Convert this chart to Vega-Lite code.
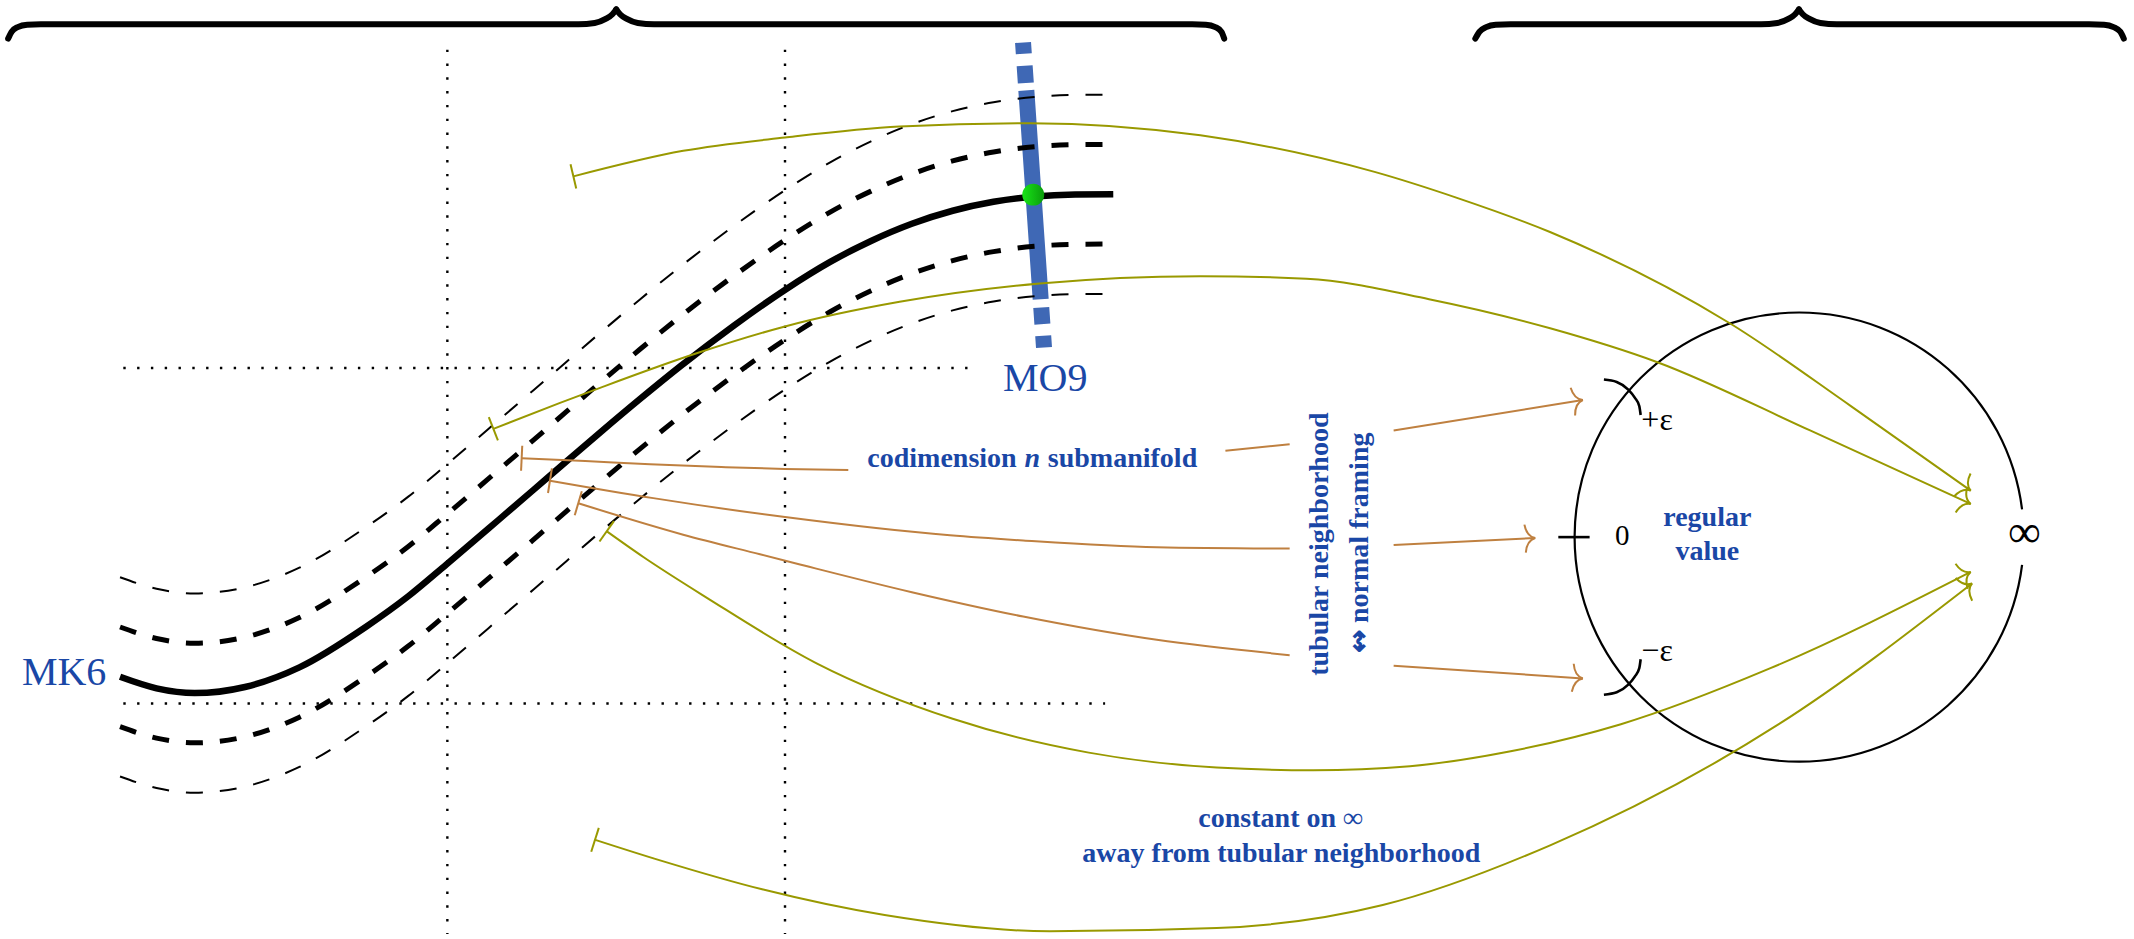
{
  "$schema": "https://vega.github.io/schema/vega-lite/v6.json",
  "width": 2134,
  "height": 939,
  "autosize": {"type": "fit", "contains": "padding"},
  "padding": 0,
  "background": "white",
  "config": {"view": {"stroke": null}},
  "datasets": {
    "dots": [
      {"id": "v1", "x": 328.7, "y": 36.7}, {"id": "v1", "x": 328.7, "y": 690},
      {"id": "v2", "x": 576.8, "y": 36.7}, {"id": "v2", "x": 576.8, "y": 690},
      {"id": "h1", "x": 90.6, "y": 271.9}, {"id": "h1", "x": 718.8, "y": 271.9},
      {"id": "h2", "x": 90.6, "y": 519.7}, {"id": "h2", "x": 812, "y": 519.7}
    ],
    "blue": [
      {"x": 751.7, "y": 31.4}, {"x": 767.1, "y": 256.7}
    ],
    "curves": [
      {"id": "s", "x": 88.2, "y": 500}, {"id": "s", "x": 115, "y": 508.5}, {"id": "s", "x": 143, "y": 512}, {"id": "s", "x": 180, "y": 507.5}, {"id": "s", "x": 220, "y": 493}, {"id": "s", "x": 269, "y": 463}, {"id": "s", "x": 300, "y": 440.5}, {"id": "s", "x": 328, "y": 417}, {"id": "s", "x": 367, "y": 383.5}, {"id": "s", "x": 404, "y": 351.5}, {"id": "s", "x": 441, "y": 319.5}, {"id": "s", "x": 470, "y": 295}, {"id": "s", "x": 500, "y": 270.5}, {"id": "s", "x": 540, "y": 240}, {"id": "s", "x": 577, "y": 214}, {"id": "s", "x": 610, "y": 193.5}, {"id": "s", "x": 640, "y": 178}, {"id": "s", "x": 670, "y": 165.3}, {"id": "s", "x": 700, "y": 155.7}, {"id": "s", "x": 730, "y": 149.1}, {"id": "s", "x": 760, "y": 145.2}, {"id": "s", "x": 790, "y": 143.7}, {"id": "s", "x": 818, "y": 143.5},
      {"id": "u1", "x": 88.2, "y": 463.2}, {"id": "u1", "x": 115, "y": 471.7}, {"id": "u1", "x": 143, "y": 475.2}, {"id": "u1", "x": 180, "y": 470.7}, {"id": "u1", "x": 220, "y": 456.2}, {"id": "u1", "x": 269, "y": 426.2}, {"id": "u1", "x": 300, "y": 403.7}, {"id": "u1", "x": 328, "y": 380.2}, {"id": "u1", "x": 367, "y": 346.7}, {"id": "u1", "x": 404, "y": 314.7}, {"id": "u1", "x": 441, "y": 282.7}, {"id": "u1", "x": 470, "y": 258.2}, {"id": "u1", "x": 500, "y": 233.7}, {"id": "u1", "x": 540, "y": 203.2}, {"id": "u1", "x": 577, "y": 177.2}, {"id": "u1", "x": 610, "y": 156.7}, {"id": "u1", "x": 640, "y": 141.2}, {"id": "u1", "x": 670, "y": 128.5}, {"id": "u1", "x": 700, "y": 118.9}, {"id": "u1", "x": 730, "y": 112.3}, {"id": "u1", "x": 760, "y": 108.4}, {"id": "u1", "x": 790, "y": 106.9}, {"id": "u1", "x": 818, "y": 106.7},
      {"id": "u2", "x": 88.2, "y": 426.4}, {"id": "u2", "x": 115, "y": 434.9}, {"id": "u2", "x": 143, "y": 438.4}, {"id": "u2", "x": 180, "y": 433.9}, {"id": "u2", "x": 220, "y": 419.4}, {"id": "u2", "x": 269, "y": 389.4}, {"id": "u2", "x": 300, "y": 366.9}, {"id": "u2", "x": 328, "y": 343.4}, {"id": "u2", "x": 367, "y": 309.9}, {"id": "u2", "x": 404, "y": 277.9}, {"id": "u2", "x": 441, "y": 245.9}, {"id": "u2", "x": 470, "y": 221.4}, {"id": "u2", "x": 500, "y": 196.9}, {"id": "u2", "x": 540, "y": 166.4}, {"id": "u2", "x": 577, "y": 140.4}, {"id": "u2", "x": 610, "y": 119.9}, {"id": "u2", "x": 640, "y": 104.4}, {"id": "u2", "x": 670, "y": 91.7}, {"id": "u2", "x": 700, "y": 82.1}, {"id": "u2", "x": 730, "y": 75.5}, {"id": "u2", "x": 760, "y": 71.6}, {"id": "u2", "x": 790, "y": 70.1}, {"id": "u2", "x": 818, "y": 69.9},
      {"id": "l1", "x": 88.2, "y": 536.8}, {"id": "l1", "x": 115, "y": 545.3}, {"id": "l1", "x": 143, "y": 548.8}, {"id": "l1", "x": 180, "y": 544.3}, {"id": "l1", "x": 220, "y": 529.8}, {"id": "l1", "x": 269, "y": 499.8}, {"id": "l1", "x": 300, "y": 477.3}, {"id": "l1", "x": 328, "y": 453.8}, {"id": "l1", "x": 367, "y": 420.3}, {"id": "l1", "x": 404, "y": 388.3}, {"id": "l1", "x": 441, "y": 356.3}, {"id": "l1", "x": 470, "y": 331.8}, {"id": "l1", "x": 500, "y": 307.3}, {"id": "l1", "x": 540, "y": 276.8}, {"id": "l1", "x": 577, "y": 250.8}, {"id": "l1", "x": 610, "y": 230.3}, {"id": "l1", "x": 640, "y": 214.8}, {"id": "l1", "x": 670, "y": 202.1}, {"id": "l1", "x": 700, "y": 192.5}, {"id": "l1", "x": 730, "y": 185.9}, {"id": "l1", "x": 760, "y": 182}, {"id": "l1", "x": 790, "y": 180.5}, {"id": "l1", "x": 818, "y": 180.3},
      {"id": "l2", "x": 88.2, "y": 573.6}, {"id": "l2", "x": 115, "y": 582.1}, {"id": "l2", "x": 143, "y": 585.6}, {"id": "l2", "x": 180, "y": 581.1}, {"id": "l2", "x": 220, "y": 566.6}, {"id": "l2", "x": 269, "y": 536.6}, {"id": "l2", "x": 300, "y": 514.1}, {"id": "l2", "x": 328, "y": 490.6}, {"id": "l2", "x": 367, "y": 457.1}, {"id": "l2", "x": 404, "y": 425.1}, {"id": "l2", "x": 441, "y": 393.1}, {"id": "l2", "x": 470, "y": 368.6}, {"id": "l2", "x": 500, "y": 344.1}, {"id": "l2", "x": 540, "y": 313.6}, {"id": "l2", "x": 577, "y": 287.6}, {"id": "l2", "x": 610, "y": 267.1}, {"id": "l2", "x": 640, "y": 251.6}, {"id": "l2", "x": 670, "y": 238.9}, {"id": "l2", "x": 700, "y": 229.3}, {"id": "l2", "x": 730, "y": 222.7}, {"id": "l2", "x": 760, "y": 218.8}, {"id": "l2", "x": 790, "y": 217.3}, {"id": "l2", "x": 818, "y": 217.1}
    ],
    "dot": [{"x": 759.2, "y": 143.8}],
    "arrows": [
      {"id": "c1a", "col": "orange", "x": 383.3, "y": 338.5}, {"id": "c1a", "col": "orange", "x": 430, "y": 340.6}, {"id": "c1a", "col": "orange", "x": 477.6, "y": 342.9}, {"id": "c1a", "col": "orange", "x": 530, "y": 345}, {"id": "c1a", "col": "orange", "x": 576.8, "y": 346.5}, {"id": "c1a", "col": "orange", "x": 623.3, "y": 347.2},
      {"id": "c1b", "col": "orange", "x": 900.4, "y": 333}, {"id": "c1b", "col": "orange", "x": 947.6, "y": 328.2},
      {"id": "c1c", "col": "orange", "x": 1024, "y": 318}, {"id": "c1c", "col": "orange", "x": 1163, "y": 295.5},
      {"id": "c2a", "col": "orange", "x": 404.1, "y": 355.1}, {"id": "c2a", "col": "orange", "x": 480, "y": 368}, {"id": "c2a", "col": "orange", "x": 576.8, "y": 382}, {"id": "c2a", "col": "orange", "x": 698, "y": 395.5}, {"id": "c2a", "col": "orange", "x": 751.8, "y": 399.3}, {"id": "c2a", "col": "orange", "x": 850, "y": 404.3}, {"id": "c2a", "col": "orange", "x": 947.6, "y": 405.3},
      {"id": "c2c", "col": "orange", "x": 1024, "y": 402.7}, {"id": "c2c", "col": "orange", "x": 1128, "y": 397.5},
      {"id": "c3a", "col": "orange", "x": 424.9, "y": 371.8}, {"id": "c3a", "col": "orange", "x": 502, "y": 395}, {"id": "c3a", "col": "orange", "x": 558.4, "y": 409.5}, {"id": "c3a", "col": "orange", "x": 587.8, "y": 417}, {"id": "c3a", "col": "orange", "x": 670, "y": 437.5}, {"id": "c3a", "col": "orange", "x": 751.8, "y": 455.5}, {"id": "c3a", "col": "orange", "x": 850, "y": 472.7}, {"id": "c3a", "col": "orange", "x": 947.6, "y": 484},
      {"id": "c3c", "col": "orange", "x": 1024, "y": 491.8}, {"id": "c3c", "col": "orange", "x": 1163, "y": 501.2},
      {"id": "o1", "col": "olive", "x": 421.3, "y": 130.3}, {"id": "o1", "col": "olive", "x": 502, "y": 111.4}, {"id": "o1", "col": "olive", "x": 576.8, "y": 101.6}, {"id": "o1", "col": "olive", "x": 661, "y": 93.5}, {"id": "o1", "col": "olive", "x": 757, "y": 91}, {"id": "o1", "col": "olive", "x": 882, "y": 100}, {"id": "o1", "col": "olive", "x": 1010, "y": 127}, {"id": "o1", "col": "olive", "x": 1070, "y": 146}, {"id": "o1", "col": "olive", "x": 1138.9, "y": 171.4}, {"id": "o1", "col": "olive", "x": 1271, "y": 238.8}, {"id": "o1", "col": "olive", "x": 1360, "y": 300}, {"id": "o1", "col": "olive", "x": 1448, "y": 362.5},
      {"id": "o2", "col": "olive", "x": 362.5, "y": 316.8}, {"id": "o2", "col": "olive", "x": 411.5, "y": 297.6}, {"id": "o2", "col": "olive", "x": 440.9, "y": 286.5}, {"id": "o2", "col": "olive", "x": 511.9, "y": 261}, {"id": "o2", "col": "olive", "x": 576.8, "y": 241.2}, {"id": "o2", "col": "olive", "x": 661, "y": 223}, {"id": "o2", "col": "olive", "x": 764, "y": 209.4}, {"id": "o2", "col": "olive", "x": 882, "y": 204}, {"id": "o2", "col": "olive", "x": 960, "y": 206}, {"id": "o2", "col": "olive", "x": 1050, "y": 221}, {"id": "o2", "col": "olive", "x": 1139, "y": 242.5}, {"id": "o2", "col": "olive", "x": 1217.3, "y": 267.4}, {"id": "o2", "col": "olive", "x": 1330, "y": 318}, {"id": "o2", "col": "olive", "x": 1448, "y": 372.3},
      {"id": "o3", "col": "olive", "x": 445.8, "y": 392.5}, {"id": "o3", "col": "olive", "x": 472.7, "y": 411.5}, {"id": "o3", "col": "olive", "x": 520, "y": 442}, {"id": "o3", "col": "olive", "x": 600, "y": 490}, {"id": "o3", "col": "olive", "x": 700, "y": 531}, {"id": "o3", "col": "olive", "x": 800, "y": 556}, {"id": "o3", "col": "olive", "x": 894, "y": 567}, {"id": "o3", "col": "olive", "x": 965, "y": 569}, {"id": "o3", "col": "olive", "x": 1036, "y": 566}, {"id": "o3", "col": "olive", "x": 1110, "y": 555}, {"id": "o3", "col": "olive", "x": 1191, "y": 535}, {"id": "o3", "col": "olive", "x": 1300, "y": 494}, {"id": "o3", "col": "olive", "x": 1448, "y": 422.5},
      {"id": "o4", "col": "olive", "x": 437.2, "y": 620.4}, {"id": "o4", "col": "olive", "x": 485, "y": 635.6}, {"id": "o4", "col": "olive", "x": 560, "y": 657}, {"id": "o4", "col": "olive", "x": 650, "y": 676}, {"id": "o4", "col": "olive", "x": 771.5, "y": 688}, {"id": "o4", "col": "olive", "x": 894, "y": 685.6}, {"id": "o4", "col": "olive", "x": 1016, "y": 668.6}, {"id": "o4", "col": "olive", "x": 1139, "y": 624.5}, {"id": "o4", "col": "olive", "x": 1307, "y": 535}, {"id": "o4", "col": "olive", "x": 1449, "y": 431}
    ],
    "heads": [
      {"col": "orange", "x": 1163, "y": 295.5, "a": -9.2},
      {"col": "orange", "x": 1128, "y": 397.5, "a": -2.9},
      {"col": "orange", "x": 1163, "y": 501.2, "a": 3.9},
      {"col": "olive", "x": 1448, "y": 362.5, "a": 35.4},
      {"col": "olive", "x": 1448, "y": 372.3, "a": 24.7},
      {"col": "olive", "x": 1448, "y": 422.5, "a": -25.8},
      {"col": "olive", "x": 1449, "y": 431, "a": -36.2}
    ],
    "tails": [
      {"col": "orange", "x": 383.3, "y": 338.5, "a": 2.7},
      {"col": "orange", "x": 404.1, "y": 355.1, "a": 9},
      {"col": "orange", "x": 424.9, "y": 371.8, "a": 16.5},
      {"col": "olive", "x": 421.3, "y": 130.3, "a": -13.2},
      {"col": "olive", "x": 362.5, "y": 316.8, "a": -21.4},
      {"col": "olive", "x": 445.8, "y": 392.5, "a": 35.2},
      {"col": "olive", "x": 437.2, "y": 620.4, "a": 17.6}
    ],
    "circle": [{"x": 1322, "y": 396.8}],
    "strokes": [
      {"id": "epsU", "x": 1178.5, "y": 280.4}, {"id": "epsU", "x": 1187.9, "y": 282.2}, {"id": "epsU", "x": 1196.4, "y": 287.8}, {"id": "epsU", "x": 1201.3, "y": 293.9}, {"id": "epsU", "x": 1204.5, "y": 300}, {"id": "epsU", "x": 1205.5, "y": 306.6},
      {"id": "epsL", "x": 1178.5, "y": 513.2}, {"id": "epsL", "x": 1187.9, "y": 511.4}, {"id": "epsL", "x": 1196.4, "y": 505.8}, {"id": "epsL", "x": 1201.3, "y": 499.7}, {"id": "epsL", "x": 1204.5, "y": 493.6}, {"id": "epsL", "x": 1205.5, "y": 487},
      {"id": "tick", "x": 1145, "y": 396.8}, {"id": "tick", "x": 1168, "y": 396.8}
    ],
    "braces": [
      {"id": "L1", "x": 6, "y": 28.5}, {"id": "L1", "x": 8.5, "y": 23.5}, {"id": "L1", "x": 13, "y": 20}, {"id": "L1", "x": 20, "y": 18.2}, {"id": "L1", "x": 30, "y": 17.9}, {"id": "L1", "x": 425, "y": 17.9}, {"id": "L1", "x": 437, "y": 17}, {"id": "L1", "x": 445, "y": 14}, {"id": "L1", "x": 450, "y": 10.5}, {"id": "L1", "x": 452.8, "y": 7},
      {"id": "L2", "x": 452.8, "y": 7}, {"id": "L2", "x": 455.6, "y": 10.5}, {"id": "L2", "x": 460.6, "y": 14}, {"id": "L2", "x": 468.6, "y": 17}, {"id": "L2", "x": 480.6, "y": 17.9}, {"id": "L2", "x": 876, "y": 17.9}, {"id": "L2", "x": 886, "y": 18.2}, {"id": "L2", "x": 893, "y": 20}, {"id": "L2", "x": 897.5, "y": 23.5}, {"id": "L2", "x": 899.5, "y": 28.5},
      {"id": "R1", "x": 1084, "y": 28.5}, {"id": "R1", "x": 1087, "y": 23.5}, {"id": "R1", "x": 1092, "y": 20}, {"id": "R1", "x": 1099, "y": 18.2}, {"id": "R1", "x": 1110, "y": 17.9}, {"id": "R1", "x": 1294, "y": 17.9}, {"id": "R1", "x": 1306, "y": 17}, {"id": "R1", "x": 1314, "y": 14}, {"id": "R1", "x": 1319, "y": 10.5}, {"id": "R1", "x": 1321.8, "y": 7},
      {"id": "R2", "x": 1321.8, "y": 7}, {"id": "R2", "x": 1324.6, "y": 10.5}, {"id": "R2", "x": 1329.6, "y": 14}, {"id": "R2", "x": 1337.6, "y": 17}, {"id": "R2", "x": 1349.6, "y": 17.9}, {"id": "R2", "x": 1535, "y": 17.9}, {"id": "R2", "x": 1546, "y": 18.2}, {"id": "R2", "x": 1553, "y": 20}, {"id": "R2", "x": 1558, "y": 23.5}, {"id": "R2", "x": 1560.5, "y": 28.5}
    ],
    "labels": [
      {"kind": "name", "t": "MK6", "x": 47.1, "y": 505.7},
      {"kind": "name", "t": "MO9", "x": 768, "y": 288.5},
      {"kind": "boldR", "t": "codimension", "x": 747, "y": 345.3},
      {"kind": "boldI", "t": "n", "x": 758.4, "y": 345.3},
      {"kind": "boldL", "t": "submanifold", "x": 769.9, "y": 345.3},
      {"kind": "bold", "t": "regular", "x": 1254.5, "y": 388.5},
      {"kind": "bold", "t": "value", "x": 1254.5, "y": 413.9},
      {"kind": "bold", "t": "constant on ∞", "x": 941, "y": 611},
      {"kind": "bold", "t": "away from tubular neighborhood", "x": 941.5, "y": 636.8},
      {"kind": "vert", "t": "tubular neighborhood", "x": 976, "y": 402},
      {"kind": "vert", "t": "↭ normal framing", "x": 1005, "y": 401},
      {"kind": "mathL", "t": "+ε", "x": 1206, "y": 317.3},
      {"kind": "mathL", "t": "−ε", "x": 1206, "y": 488.6},
      {"kind": "mathC", "t": "0", "x": 1192, "y": 402.3},
      {"kind": "inf", "t": "∞", "x": 1487.5, "y": 394}
    ]
  },
  "layer": [
    {
      "data": {"name": "dots"},
      "mark": {"type": "line", "color": "black", "strokeWidth": 2.4, "strokeDash": [2.4, 11.4], "strokeCap": "butt"},
      "encoding": {
        "x": {"field": "x", "type": "quantitative", "scale": {"domain": [0, 1568], "nice": false, "zero": false}, "axis": null},
        "y": {"field": "y", "type": "quantitative", "scale": {"domain": [0, 690], "nice": false, "zero": false, "reverse": true}, "axis": null},
        "detail": {"field": "id"}
      }
    },
    {
      "data": {"name": "blue"},
      "mark": {"type": "line", "color": "#3f68b5", "strokeWidth": 16, "strokeCap": "butt", "strokeDash": [11.3, 12, 17.3, 7.4, 209.3, 8.3, 16.7, 11.7, 12.6]},
      "encoding": {
        "x": {"field": "x", "type": "quantitative"},
        "y": {"field": "y", "type": "quantitative"}
      }
    },
    {
      "data": {"name": "curves"},
      "transform": [{"filter": {"field": "id", "oneOf": ["u2", "l2"]}}],
      "mark": {"type": "line", "interpolate": "monotone", "color": "black", "strokeWidth": 2, "strokeDash": [17, 17], "strokeCap": "butt"},
      "encoding": {
        "x": {"field": "x", "type": "quantitative"},
        "y": {"field": "y", "type": "quantitative"},
        "detail": {"field": "id"}
      }
    },
    {
      "data": {"name": "curves"},
      "transform": [{"filter": {"field": "id", "oneOf": ["u1", "l1"]}}],
      "mark": {"type": "line", "interpolate": "monotone", "color": "black", "strokeWidth": 5, "strokeDash": [17, 17], "strokeCap": "butt"},
      "encoding": {
        "x": {"field": "x", "type": "quantitative"},
        "y": {"field": "y", "type": "quantitative"},
        "detail": {"field": "id"}
      }
    },
    {
      "data": {"name": "curves"},
      "transform": [{"filter": {"field": "id", "equal": "s"}}],
      "mark": {"type": "line", "interpolate": "monotone", "color": "black", "strokeWidth": 6.5},
      "encoding": {
        "x": {"field": "x", "type": "quantitative"},
        "y": {"field": "y", "type": "quantitative"}
      }
    },
    {
      "data": {"name": "dot"},
      "mark": {"type": "point", "shape": "circle", "filled": true, "size": 480, "opacity": 1, "strokeWidth": 0,
        "fill": {"gradient": "linear", "x1": 0, "y1": 0.5, "x2": 1, "y2": 0.5, "stops": [{"offset": 0, "color": "#18e418"}, {"offset": 1, "color": "#0b9c0b"}]}},
      "encoding": {
        "x": {"field": "x", "type": "quantitative"},
        "y": {"field": "y", "type": "quantitative"}
      }
    },
    {
      "data": {"name": "circle"},
      "mark": {"type": "point", "filled": false, "opacity": 1, "color": "black", "strokeWidth": 2.2, "size": 201780,
        "shape": "M0.99233,0.1236 C0.92997,0.62423 0.5045,1 0,1 C-0.5523,1 -1,0.5523 -1,0 C-1,-0.5523 -0.5523,-1 0,-1 C0.5045,-1 0.92997,-0.62423 0.99233,-0.1236"},
      "encoding": {
        "x": {"field": "x", "type": "quantitative"},
        "y": {"field": "y", "type": "quantitative"}
      }
    },
    {
      "data": {"name": "strokes"},
      "mark": {"type": "line", "interpolate": "monotone", "color": "black", "strokeWidth": 2.6},
      "encoding": {
        "x": {"field": "x", "type": "quantitative"},
        "y": {"field": "y", "type": "quantitative"},
        "detail": {"field": "id"}
      }
    },
    {
      "data": {"name": "arrows"},
      "mark": {"type": "line", "interpolate": "monotone", "strokeWidth": 2},
      "encoding": {
        "x": {"field": "x", "type": "quantitative"},
        "y": {"field": "y", "type": "quantitative"},
        "detail": {"field": "id"},
        "color": {"field": "col", "type": "nominal", "scale": {"domain": ["orange", "olive"], "range": ["#bf8040", "#999900"]}, "legend": null}
      }
    },
    {
      "data": {"name": "heads"},
      "mark": {"type": "point", "filled": false, "opacity": 1, "strokeWidth": 2, "size": 784, "shape": "M-0.72,-1 Q-0.6,-0.15 0,0 Q-0.6,0.15 -0.72,1"},
      "encoding": {
        "x": {"field": "x", "type": "quantitative"},
        "y": {"field": "y", "type": "quantitative"},
        "angle": {"field": "a", "type": "quantitative", "scale": null},
        "color": {"field": "col", "type": "nominal", "scale": {"domain": ["orange", "olive"], "range": ["#bf8040", "#999900"]}, "legend": null}
      }
    },
    {
      "data": {"name": "tails"},
      "mark": {"type": "point", "filled": false, "opacity": 1, "strokeWidth": 2, "size": 625, "shape": "M0,-1 L0,1"},
      "encoding": {
        "x": {"field": "x", "type": "quantitative"},
        "y": {"field": "y", "type": "quantitative"},
        "angle": {"field": "a", "type": "quantitative", "scale": null},
        "color": {"field": "col", "type": "nominal", "scale": {"domain": ["orange", "olive"], "range": ["#bf8040", "#999900"]}, "legend": null}
      }
    },
    {
      "data": {"name": "braces"},
      "mark": {"type": "line", "interpolate": "monotone", "color": "black", "strokeWidth": 6, "strokeCap": "round", "strokeJoin": "round"},
      "encoding": {
        "x": {"field": "x", "type": "quantitative"},
        "y": {"field": "y", "type": "quantitative"},
        "detail": {"field": "id"}
      }
    },
    {
      "data": {"name": "labels"},
      "transform": [{"filter": {"field": "kind", "equal": "name"}}],
      "mark": {"type": "text", "font": "Liberation Serif", "fontSize": 40, "color": "#1a47a6", "align": "center", "baseline": "alphabetic"},
      "encoding": {
        "x": {"field": "x", "type": "quantitative"},
        "y": {"field": "y", "type": "quantitative"},
        "text": {"field": "t"}
      }
    },
    {
      "data": {"name": "labels"},
      "transform": [{"filter": {"field": "kind", "equal": "bold"}}],
      "mark": {"type": "text", "font": "Liberation Serif", "fontSize": 28, "fontWeight": "bold", "color": "#1a47a6", "align": "center", "baseline": "alphabetic"},
      "encoding": {
        "x": {"field": "x", "type": "quantitative"},
        "y": {"field": "y", "type": "quantitative"},
        "text": {"field": "t"}
      }
    },
    {
      "data": {"name": "labels"},
      "transform": [{"filter": {"field": "kind", "equal": "boldR"}}],
      "mark": {"type": "text", "font": "Liberation Serif", "fontSize": 28, "fontWeight": "bold", "color": "#1a47a6", "align": "right", "baseline": "alphabetic"},
      "encoding": {
        "x": {"field": "x", "type": "quantitative"},
        "y": {"field": "y", "type": "quantitative"},
        "text": {"field": "t"}
      }
    },
    {
      "data": {"name": "labels"},
      "transform": [{"filter": {"field": "kind", "equal": "boldL"}}],
      "mark": {"type": "text", "font": "Liberation Serif", "fontSize": 28, "fontWeight": "bold", "color": "#1a47a6", "align": "left", "baseline": "alphabetic"},
      "encoding": {
        "x": {"field": "x", "type": "quantitative"},
        "y": {"field": "y", "type": "quantitative"},
        "text": {"field": "t"}
      }
    },
    {
      "data": {"name": "labels"},
      "transform": [{"filter": {"field": "kind", "equal": "boldI"}}],
      "mark": {"type": "text", "font": "Liberation Serif", "fontSize": 28, "fontWeight": "bold", "fontStyle": "italic", "color": "#1a47a6", "align": "center", "baseline": "alphabetic"},
      "encoding": {
        "x": {"field": "x", "type": "quantitative"},
        "y": {"field": "y", "type": "quantitative"},
        "text": {"field": "t"}
      }
    },
    {
      "data": {"name": "labels"},
      "transform": [{"filter": {"field": "kind", "equal": "vert"}}],
      "mark": {"type": "text", "font": "Liberation Serif", "fontSize": 28, "fontWeight": "bold", "color": "#1a47a6", "align": "center", "baseline": "alphabetic", "angle": 270},
      "encoding": {
        "x": {"field": "x", "type": "quantitative"},
        "y": {"field": "y", "type": "quantitative"},
        "text": {"field": "t"}
      }
    },
    {
      "data": {"name": "labels"},
      "transform": [{"filter": {"field": "kind", "equal": "mathL"}}],
      "mark": {"type": "text", "font": "Liberation Serif", "fontSize": 32, "color": "black", "align": "left", "baseline": "alphabetic"},
      "encoding": {
        "x": {"field": "x", "type": "quantitative"},
        "y": {"field": "y", "type": "quantitative"},
        "text": {"field": "t"}
      }
    },
    {
      "data": {"name": "labels"},
      "transform": [{"filter": {"field": "kind", "equal": "mathC"}}],
      "mark": {"type": "text", "font": "Liberation Serif", "fontSize": 29, "color": "black", "align": "center", "baseline": "alphabetic"},
      "encoding": {
        "x": {"field": "x", "type": "quantitative"},
        "y": {"field": "y", "type": "quantitative"},
        "text": {"field": "t"}
      }
    },
    {
      "data": {"name": "labels"},
      "transform": [{"filter": {"field": "kind", "equal": "inf"}}],
      "mark": {"type": "text", "font": "Liberation Serif", "fontSize": 46, "color": "black", "align": "center", "baseline": "middle"},
      "encoding": {
        "x": {"field": "x", "type": "quantitative"},
        "y": {"field": "y", "type": "quantitative"},
        "text": {"field": "t"}
      }
    }
  ]
}
